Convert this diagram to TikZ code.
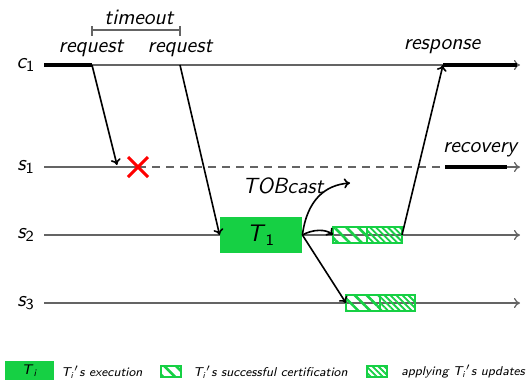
\documentclass[tikz,border=0pt]{standalone}
\usetikzlibrary{arrows.meta,patterns.meta,calc}
\definecolor{exgreen}{RGB}{22,208,68}
\definecolor{tline}{RGB}{100,100,100}
\newcommand{\idx}[2]{\textit{#1}\textsubscript{\upshape #2}}
\tikzset{
  lbl/.style={font=\fontsize{11}{13}\selectfont\sffamily\itshape, inner sep=1pt},
  leg/.style={font=\fontsize{6.4}{8}\selectfont\sffamily\itshape, inner sep=1pt, anchor=west},
  timeline/.style={draw=tline, line width=0.6pt, -{To[length=3pt,width=5pt]}},
  busy/.style={draw=black, line width=1.6pt},
  msg/.style={draw=black, line width=0.8pt, -{To[length=3pt,width=5pt]}},
  execbox/.style={fill=exgreen, draw=none},
  certbox/.style={draw=exgreen, line width=0.6pt,
    pattern={Lines[angle=-45,distance=4.2pt,line width=1.3pt]}, pattern color=exgreen},
  applybox/.style={draw=exgreen, line width=0.6pt,
    pattern={Lines[angle=-45,distance=2.1pt,line width=0.9pt]}, pattern color=exgreen},
}
\begin{document}
\begin{tikzpicture}[x=0.5pt,y=-0.5pt]
\useasboundingbox (0,0) rectangle (530,380);

% process labels
\node[lbl] (lc1) at (26,65) {\idx{c}{1}};
\node[lbl] (ls1) at (26,167) {\idx{s}{1}};
\node[lbl] (ls2) at (26,235) {\idx{s}{2}};
\node[lbl] (ls3) at (26,303) {\idx{s}{3}};

% time lines
\coordinate (c1a) at (44,65);  \coordinate (c1b) at (520,65);
\coordinate (s1a) at (44,167); \coordinate (s1b) at (520,167);
\coordinate (s2a) at (44,235); \coordinate (s2b) at (520,235);
\coordinate (s3a) at (44,303); \coordinate (s3b) at (520,303);
\coordinate (req1) at (92,65);
\coordinate (req2) at (180,65);
\coordinate (resp) at (443,65);
\coordinate (lost) at (117,165);
\coordinate (crash) at (138,167);
\coordinate (recov) at (445,167);
\coordinate (recovend) at (507,167);

\draw[timeline] (c1a) -- (c1b);
\draw[busy] (c1a) -- (req1);
\draw[busy] (resp) -- (517,65);
\draw[draw=tline, line width=0.6pt] (s1a) -- (crash);
\draw[draw=tline, line width=0.6pt, dash pattern=on 4pt off 3pt] (crash) -- (recov);
\draw[timeline] (recov) -- (s1b);
\draw[busy] (recov) -- (recovend);
\draw[timeline] (s2a) -- (s2b);
\draw[timeline] (s3a) -- (s3b);

% execution and certification boxes
\node[execbox, minimum width=41pt, minimum height=18pt, inner sep=0pt,
      font=\fontsize{12}{14}\selectfont\sffamily] (t1) at (261,235) {\idx{T}{1}};
\path[certbox]  (333,227) rectangle (367,243);
\path[applybox] (367,227) rectangle (402,243);
\coordinate (cert2) at (333,235);
\coordinate (done2) at (402,235);
\path[certbox]  (346,295) rectangle (380,311);
\path[applybox] (380,295) rectangle (415,311);
\coordinate (cert3) at (346,303);

% crash mark
\draw[red, line width=1.5pt] ($(crash)+(-10,-10)$) -- ($(crash)+(10,10)$)
  ($(crash)+(-10,10)$) -- ($(crash)+(10,-10)$);

% messages
\draw[msg] (req1) -- (lost);
\draw[msg] (req2) -- (t1.west);
\draw[msg] (t1.east) .. controls (307,200) and (325,185) .. (350,183);
\draw[msg] (t1.east) .. controls (313,229) and (326,229) .. (cert2);
\draw[msg] (t1.east) -- (cert3);
\draw[msg] (done2) -- (resp);

% timeout bracket
\draw[tline, line width=0.6pt] (92,30) -- (180,30)
  (92,26) -- (92,36) (180,26) -- (180,36);

% labels
\node[lbl] (ltimeout) at (139,17) {timeout};
\node[lbl] (lreq1) at (91,48) {request};
\node[lbl] (lreq2) at (180,48) {request};
\node[lbl] (lresp) at (442,47) {response};
\node[lbl] (lrecov) at (480,150) {recovery};
\node[lbl] (ltob) at (283,186) {TOBcast};

% legend
\node[execbox, minimum width=24.5pt, minimum height=10pt, inner sep=0pt,
      font=\fontsize{7}{9}\selectfont\sffamily] (kexec) at (29.5,371) {\idx{T}{\itshape i}};
\node[leg] (kexect) at (59,372) {\idx{T}{\itshape i}$'$s execution};
\path[certbox] (161,366) rectangle (181,377);
\node[leg] (kcertt) at (191,372) {\idx{T}{\itshape i}$'$s successful certification};
\path[applybox] (367,366) rectangle (387,377);
\node[leg] (kapplyt) at (399,372) {applying \idx{T}{\itshape i}$'$s updates};
\end{tikzpicture}
\end{document}
